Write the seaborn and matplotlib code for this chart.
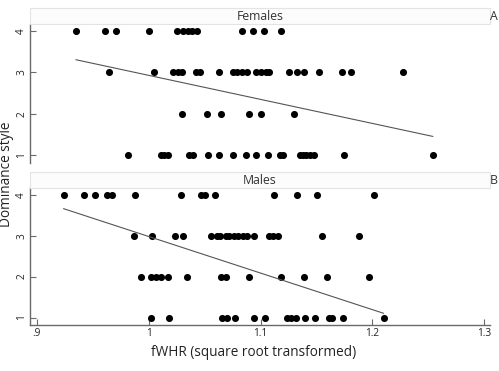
import numpy as np
import pandas as pd
import matplotlib
matplotlib.use("Agg")
import matplotlib.pyplot as plt
from matplotlib.patches import Rectangle
import seaborn as sns

sns.set_style("white")
plt.rcParams['font.family'] = ['Open Sans', 'DejaVu Sans']

# Females: fWHR values per dominance style
fem_4 = [0.935, 0.961, 0.971, 1.000, 1.025, 1.031, 1.035, 1.039, 1.043, 1.083, 1.093, 1.103, 1.118]
fem_3 = [0.965, 1.005, 1.022, 1.026, 1.030, 1.042, 1.046, 1.063, 1.075, 1.079, 1.083, 1.088,
         1.096, 1.100, 1.105, 1.108, 1.125, 1.133, 1.139, 1.152, 1.173, 1.181, 1.227]
fem_2 = [1.030, 1.052, 1.065, 1.090, 1.100, 1.130]
fem_1 = [0.982, 1.011, 1.014, 1.017, 1.036, 1.040, 1.053, 1.063, 1.075, 1.087, 1.096, 1.107,
         1.117, 1.120, 1.135, 1.138, 1.141, 1.144, 1.148, 1.175, 1.254]

# Males
mal_4 = [0.924, 0.942, 0.952, 0.963, 0.967, 0.988, 1.029, 1.047, 1.050, 1.059, 1.112, 1.133, 1.150, 1.201]
mal_3 = [0.987, 1.003, 1.024, 1.031, 1.056, 1.061, 1.064, 1.069, 1.072, 1.076, 1.080, 1.084,
         1.088, 1.094, 1.108, 1.111, 1.116, 1.155, 1.188]
mal_2 = [0.993, 1.002, 1.007, 1.011, 1.017, 1.034, 1.065, 1.069, 1.090, 1.118, 1.139, 1.159, 1.197]
mal_1 = [1.002, 1.018, 1.066, 1.070, 1.077, 1.094, 1.104, 1.124, 1.127, 1.132, 1.140, 1.149,
         1.161, 1.164, 1.174, 1.210]

# Linear fit (intercept, slope)
fem_fit = (8.717, -5.79)
mal_fit = (11.91, -8.93)

styles = [4, 3, 2, 1]
panels = ["Females", "Males"]
letters = ["A", "B"]
x_ticks = [0.9, 1.0, 1.1, 1.2, 1.3]
x_ticklabels = [".9", "1", "1.1", "1.2", "1.3"]
y_ticks = [1, 2, 3, 4]


def build(groups):
    rows = []
    for s, vals in zip(styles, groups):
        for v in vals:
            rows.append({"fwhr": v, "dom": s})
    return pd.DataFrame(rows)


data = [build([fem_4, fem_3, fem_2, fem_1]), build([mal_4, mal_3, mal_2, mal_1])]
fits = [fem_fit, mal_fit]

fig = plt.figure(figsize=(4.99, 3.71), dpi=100)
left, width = 0.060, 0.922
ax_top = fig.add_axes([left, 0.561, width, 0.374])
ax_bot = fig.add_axes([left, 0.124, width, 0.369])
axes = [ax_top, ax_bot]
header_y = [(0.935, 0.978), (0.493, 0.536)]

spine_col = "#6a6a6a"
tick_txt = "#222222"
for i, ax in enumerate(axes):
    df = data[i]
    sns.scatterplot(data=df, x="fwhr", y="dom", ax=ax, s=26, color="black",
                    linewidth=0, legend=False)
    b0, b1 = fits[i]
    xr = np.array([df["fwhr"].min(), df["fwhr"].max()])
    line_df = pd.DataFrame({"fwhr": xr, "dom": b0 + b1 * xr})
    sns.lineplot(data=line_df, x="fwhr", y="dom", ax=ax, color="#555555", lw=0.8)
    ax.set_xlim(0.894, 1.305)
    ax.set_ylim(0.82, 4.16)
    ax.set_xlabel("")
    ax.set_ylabel("")
    ax.set_yticks(y_ticks)
    ax.set_yticklabels([str(t) for t in y_ticks], rotation=90, va="center", fontsize=7.2, color=tick_txt)
    for s in ["top", "right"]:
        ax.spines[s].set_visible(False)
    ax.spines["left"].set_color(spine_col)
    ax.spines["left"].set_linewidth(1.0)
    ax.tick_params(axis="y", direction="in", length=4, width=0.8, color=spine_col, pad=2, left=True)
    y0, y1 = header_y[i]
    fig.patches.append(Rectangle((left, y0), width, y1 - y0, transform=fig.transFigure,
                                 facecolor="#fcfcfc", edgecolor="#e4e4e4", lw=0.8, zorder=0))
    fig.text(left + width / 2, (y0 + y1) / 2, panels[i], ha="center", va="center",
             fontsize=8.8, color="#333333")
    fig.text(0.981, (y0 + y1) / 2, letters[i], ha="left", va="center", fontsize=8.8, color="#333333")

ax_top.spines["bottom"].set_visible(False)
ax_top.set_xticks([])
ax_bot.spines["bottom"].set_color(spine_col)
ax_bot.spines["bottom"].set_linewidth(1.0)
ax_bot.set_xticks(x_ticks)
ax_bot.set_xticklabels(x_ticklabels, fontsize=7.2, color=tick_txt)
ax_bot.tick_params(axis="x", direction="in", length=4, width=0.8, color=spine_col, pad=2, bottom=True)

fig.text(0.508, 0.05, "fWHR (square root transformed)", ha="center", va="center",
         fontsize=9.8, color="#222222")
fig.text(0.013, 0.531, "Dominance style", ha="center", va="center", rotation=90,
         fontsize=9.8, color="#222222")

fig.savefig("out.png", dpi=100)
